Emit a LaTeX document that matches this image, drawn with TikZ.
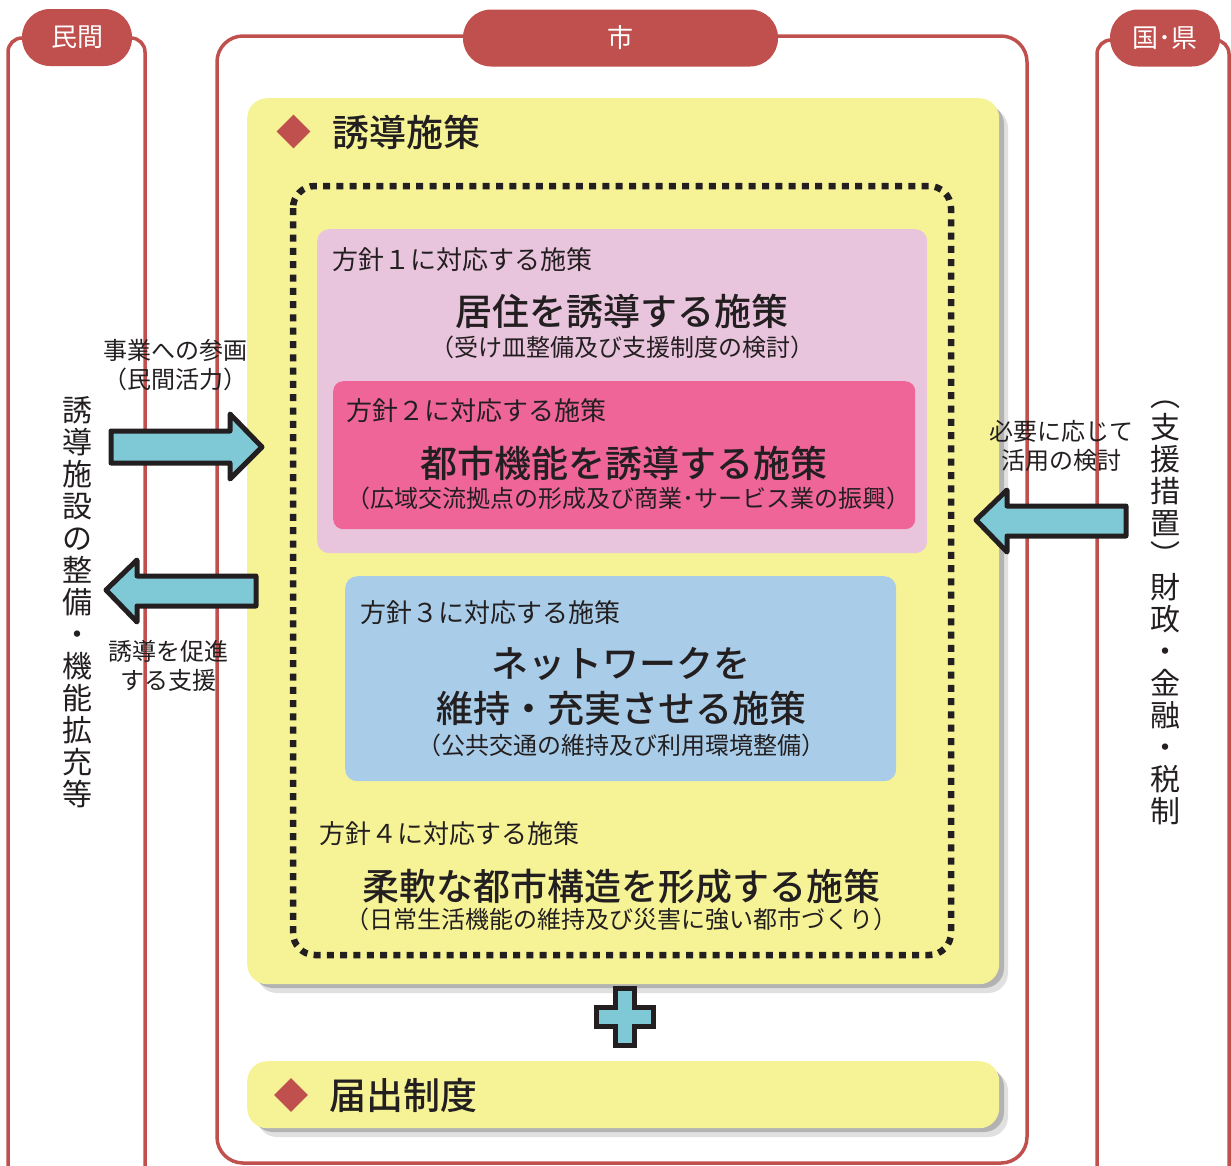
\documentclass[tikz,border=0pt]{standalone}
\usepackage{fontspec}
\setmainfont{Noto Sans CJK JP}
\newfontfamily\jpm{Noto Sans CJK JP Medium}
\usetikzlibrary{shapes.geometric}
\definecolor{redc}{HTML}{C0504D}
\definecolor{yel}{HTML}{F6F397}
\definecolor{pinkl}{HTML}{E8C4DD}
\definecolor{pinkh}{HTML}{EF6598}
\definecolor{bluel}{HTML}{A9CDE9}
\definecolor{cyanc}{HTML}{7FC8D6}
\definecolor{ink}{HTML}{231F20}
\newcommand{\fs}[1]{\fontsize{#1}{#1}\selectfont}
\newcommand{\vstrut}{\rule[-4pt]{0pt}{27pt}}
\begin{document}
\begin{tikzpicture}[x=1pt,y=-1pt,
  frame/.style={draw=redc, line width=3.5pt},
  tab/.style={fill=redc, text=white, rounded corners=28pt, minimum height=57pt, inner sep=0pt, font=\fs{26}},
  ybox/.style={fill=yel, rounded corners=20pt, anchor=north west, inner sep=0pt},
  ybshadow/.style={rounded corners=20pt},
  dia/.style={diamond, fill=redc, minimum size=34pt, inner sep=0pt},
  lbl/.style={text=ink, inner sep=0pt, font=\fs{26}},
  ttl/.style={text=ink, inner sep=0pt, font=\jpm\fs{37}},
  sub/.style={text=ink, inner sep=0pt, font=\fs{24}},
  side/.style={text=ink, inner sep=0pt, font=\fontsize{24}{29}\selectfont, align=center},
  vert/.style={text=ink, inner sep=0pt, font=\fontsize{30}{32}\selectfont, align=center},
  barrow/.style={fill=cyanc, draw=ink, line width=5pt, line join=round},
]
\useasboundingbox (0,0) rectangle (1231,1165);

% column frames
\draw[frame, rounded corners=14pt] (8,1175) -- (8,38) -- (145,38) -- (145,1175);
\draw[frame, rounded corners=26pt] (217,36) rectangle (1027,1163);
\draw[frame, rounded corners=14pt] (1097,1175) -- (1097,40) -- (1229,40) -- (1229,1175);

% tabs
\node[tab, minimum width=110pt] (tmin) at (77,37.5) {民間};
\node[tab, minimum width=315pt] (tshi) at (620.5,38) {市};
\node[tab, minimum width=110pt] (tkoku) at (1165,38) {国･県};

% main yellow box with shadow
\fill[black!12, ybshadow] (257,108) rectangle (1008,993);
\fill[black!30, ybshadow] (253,104) rectangle (1004,988);
\node[ybox, minimum width=752pt, minimum height=886pt] (yb) at (247,98) {};
\node[dia] (d1) at (293.5,131.5) {};
\node[ttl, anchor=west] (t1) at (332,132) {誘導施策};

% dotted frame
\draw[ink, line width=6.5pt, dash pattern=on 7pt off 6.3pt, rounded corners=22pt] (293,186) rectangle (951,955);

% policy 1
\node[fill=pinkl, rounded corners=12pt, anchor=north west, minimum width=610pt, minimum height=324pt, inner sep=0pt] (p1) at (317,229) {};
\node[lbl, anchor=west] (p1a) at (332,260) {方針１に対応する施策};
\node[ttl] (p1b) at (622,311) {居住を誘導する施策};
\node[sub] (p1c) at (622,347) {（受け皿整備及び支援制度の検討）};

% policy 2
\node[fill=pinkh, rounded corners=10pt, anchor=north west, minimum width=582pt, minimum height=148pt, inner sep=0pt] (p2) at (333,381) {};
\node[lbl, anchor=west] (p2a) at (346,411) {方針２に対応する施策};
\node[ttl] (p2b) at (624,463) {都市機能を誘導する施策};
\node[sub] (p2c) at (628,498) {（広域交流拠点の形成及び商業･サービス業の振興）};

% policy 3
\node[fill=bluel, rounded corners=12pt, anchor=north west, minimum width=551pt, minimum height=205pt, inner sep=0pt] (p3) at (345,576) {};
\node[lbl, anchor=west] (p3a) at (360,613) {方針３に対応する施策};
\node[ttl] (p3b) at (621,664) {ネットワークを};
\node[ttl] (p3c) at (621,708) {維持・充実させる施策};
\node[sub] (p3d) at (621,745) {（公共交通の維持及び利用環境整備）};

% policy 4
\node[lbl, anchor=west] (p4a) at (319,834) {方針４に対応する施策};
\node[ttl] (p4b) at (621,886) {柔軟な都市構造を形成する施策};
\node[sub] (p4c) at (621,919) {（日常生活機能の維持及び災害に強い都市づくり）};

% plus sign
\draw[barrow, line join=miter] (615.5,988.5) -- (634.5,988.5) -- (634.5,1007.5) -- (653.5,1007.5) -- (653.5,1026.5) -- (634.5,1026.5) -- (634.5,1045.5) -- (615.5,1045.5) -- (615.5,1026.5) -- (596.5,1026.5) -- (596.5,1007.5) -- (615.5,1007.5) -- cycle;

% bottom yellow box
\fill[black!12, ybshadow] (257,1071) rectangle (1008,1137);
\fill[black!30, ybshadow] (253,1067) rectangle (1004,1132);
\node[ybox, minimum width=752pt, minimum height=67pt] (yb2) at (247,1061) {};
\node[dia] (d2) at (291,1095) {};
\node[ttl, anchor=west] (t2) at (329,1095) {届出制度};

% left column texts & arrows
\node[side] (s1) at (175,365) {事業への参画\\（民間活力）};
\draw[barrow] (111,431) -- (230,431) -- (230,414) -- (262,447) -- (230,479) -- (230,463) -- (111,463) -- cycle;
\draw[barrow] (256,576) -- (137,576) -- (137,560) -- (106,590) -- (137,622) -- (137,606) -- (256,606) -- cycle;
\node[side] (s2) at (168,666) {誘導を促進\\する支援};
\node[vert] (v1) at (77,602.5) {\vstrut{}誘\\導\\施\\設\\の\\整\\備\\・\\機\\能\\拡\\充\\等\vstrut{}};

% right column texts & arrow
\node[side] (s3) at (1061,446) {必要に応じて\\活用の検討};
\draw[barrow] (1126,506) -- (1007,506) -- (1007,490) -- (976,520) -- (1007,552) -- (1007,536) -- (1126,536) -- cycle;
\node[vert] (v2) at (1165,605) {\vstrut{}︵\\支\\援\\措\\置\\︶\\財\\政\\・\\金\\融\\・\\税\\制\vstrut{}};
\end{tikzpicture}
\end{document}
